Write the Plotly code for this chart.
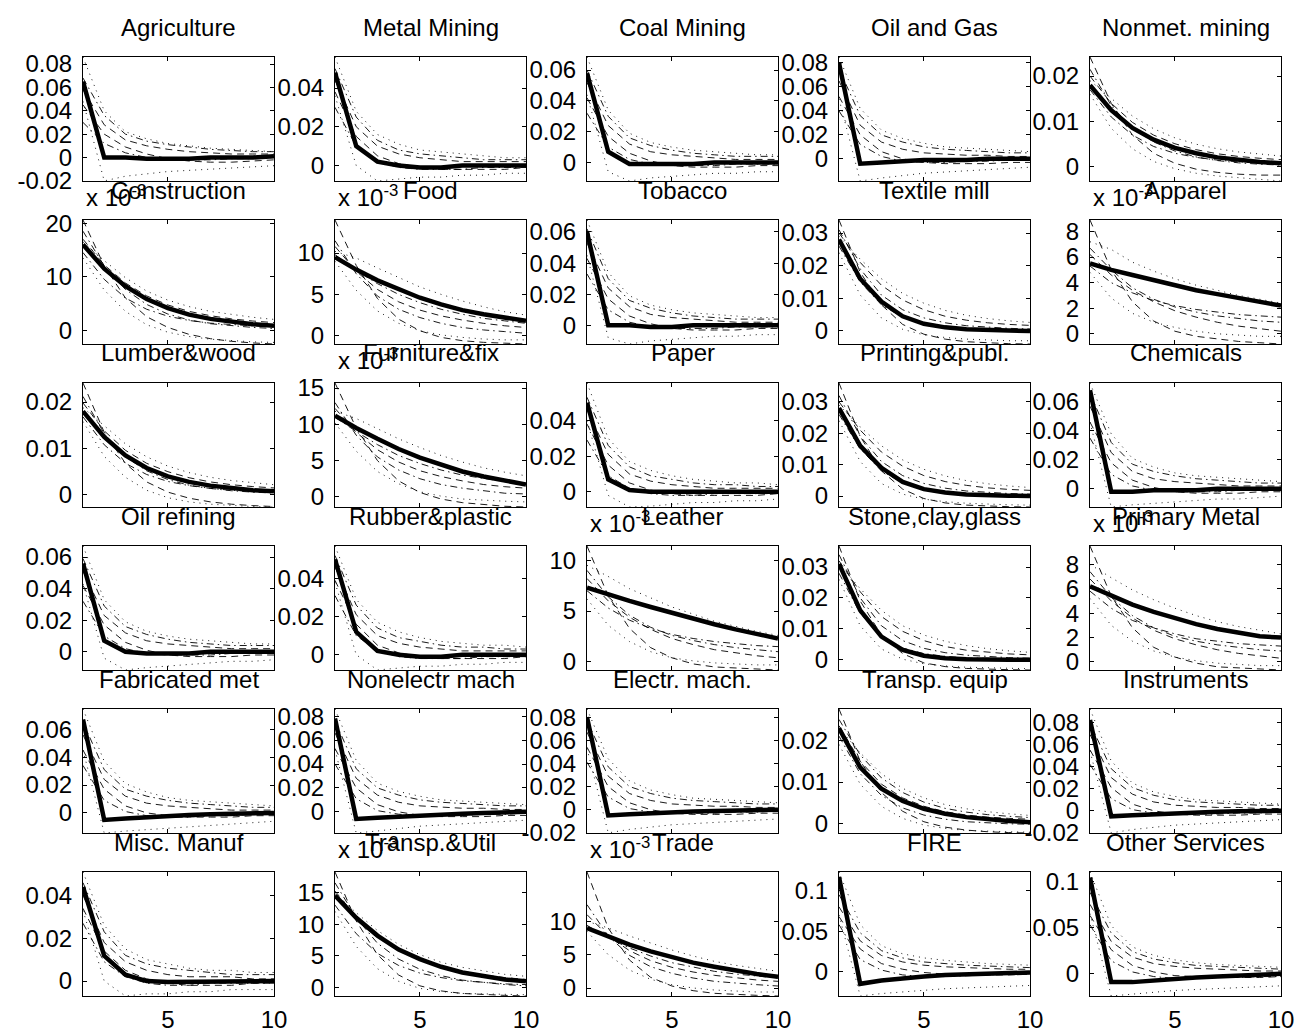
import plotly.graph_objects as go

FONT = "Liberation Sans, Arial, sans-serif"

# ---------------- data ----------------
horizon = [1, 2, 3, 4, 5, 6, 7, 8, 9, 10]

titles = ["Agriculture", "Metal Mining", "Coal Mining", "Oil and Gas", "Nonmet. mining",
          "Construction", "Food", "Tobacco", "Textile mill", "Apparel",
          "Lumber&wood", "Furniture&fix", "Paper", "Printing&publ.", "Chemicals",
          "Oil refining", "Rubber&plastic", "Leather", "Stone,clay,glass", "Primary Metal",
          "Fabricated met", "Nonelectr mach", "Electr. mach.", "Transp. equip", "Instruments",
          "Misc. Manuf", "Transp.&Util", "Trade", "FIRE", "Other Services"]

# panels whose values are shown in units of 1e-3
scaled_1e3 = ["Construction", "Food", "Apparel", "Furniture&fix", "Leather",
              "Primary Metal", "Transp.&Util", "Trade"]

# A = fast (one-period) response, B = smooth decay
kinds = ["A", "A", "A", "A", "B",
         "B", "B", "A", "B", "B",
         "B", "B", "A", "B", "A",
         "A", "A", "B", "B", "B",
         "A", "A", "A", "B", "A",
         "A", "B", "B", "A", "A"]

y_ticks = [
    [-0.02, 0, 0.02, 0.04, 0.06, 0.08], [0, 0.02, 0.04], [0, 0.02, 0.04, 0.06], [0, 0.02, 0.04, 0.06, 0.08], [0, 0.01, 0.02],
    [0, 10, 20], [0, 5, 10], [0, 0.02, 0.04, 0.06], [0, 0.01, 0.02, 0.03], [0, 2, 4, 6, 8],
    [0, 0.01, 0.02], [0, 5, 10, 15], [0, 0.02, 0.04], [0, 0.01, 0.02, 0.03], [0, 0.02, 0.04, 0.06],
    [0, 0.02, 0.04, 0.06], [0, 0.02, 0.04], [0, 5, 10], [0, 0.01, 0.02, 0.03], [0, 2, 4, 6, 8],
    [0, 0.02, 0.04, 0.06], [0, 0.02, 0.04, 0.06, 0.08], [-0.02, 0, 0.02, 0.04, 0.06, 0.08], [0, 0.01, 0.02], [-0.02, 0, 0.02, 0.04, 0.06, 0.08],
    [0, 0.02, 0.04], [0, 5, 10, 15], [0, 5, 10], [0, 0.05, 0.1], [0, 0.05, 0.1],
]

y_limits = [
    [-0.0201, 0.086], [-0.008, 0.056], [-0.012, 0.0685], [-0.0185, 0.085], [-0.0031, 0.0242],
    [-2.6, 20.6], [-1.0, 14.0], [-0.012, 0.0677], [-0.004, 0.034], [-0.8, 8.9],
    [-0.0026, 0.0241], [-1.4, 15.7], [-0.0085, 0.061], [-0.0035, 0.036], [-0.0125, 0.073],
    [-0.0115, 0.067], [-0.008, 0.057], [-0.8, 11.4], [-0.0033, 0.0368], [-0.66, 9.5],
    [-0.0144, 0.0745], [-0.0177, 0.086], [-0.0201, 0.087], [-0.0022, 0.0275], [-0.0201, 0.092],
    [-0.007, 0.051], [-1.3, 18.2], [-1.2, 17.4], [-0.030, 0.123], [-0.024, 0.110],
]

# main (thick) responses
agriculture = [0.065, 0.000, 0.000, -0.001, -0.001, -0.001, 0.000, 0.000, 0.000, 0.001]
metal_mining = [0.048, 0.010, 0.002, 0.000, -0.001, -0.001, 0.000, 0.000, 0.000, 0.000]
coal_mining = [0.058, 0.007, -0.001, -0.001, -0.001, -0.001, 0.000, 0.000, 0.000, 0.000]
oil_gas = [0.080, -0.004, -0.003, -0.002, -0.001, -0.001, -0.001, 0.000, 0.000, 0.000]
nonmet_mining = [0.0180, 0.0125, 0.0086, 0.0060, 0.0042, 0.0030, 0.0021, 0.0015, 0.0011, 0.0008]
construction = [16.0, 11.5, 8.2, 5.8, 4.1, 2.9, 2.1, 1.5, 1.1, 0.8]
food = [9.5, 8.0, 6.7, 5.6, 4.6, 3.8, 3.1, 2.6, 2.2, 1.8]
tobacco = [0.060, 0.000, 0.000, -0.001, -0.001, 0.000, 0.000, 0.000, 0.000, 0.000]
textile = [0.028, 0.016, 0.009, 0.0045, 0.0022, 0.0011, 0.0005, 0.0002, 0.0001, 0.0000]
apparel = [5.5, 5.0, 4.6, 4.2, 3.8, 3.4, 3.1, 2.8, 2.5, 2.2]
lumber = [0.0180, 0.0125, 0.0085, 0.0058, 0.0040, 0.0028, 0.0020, 0.0014, 0.0010, 0.0008]
furniture = [11.2, 9.5, 8.0, 6.6, 5.4, 4.4, 3.5, 2.8, 2.2, 1.7]
paper = [0.050, 0.007, 0.001, 0.000, 0.000, 0.000, 0.000, 0.000, 0.000, 0.000]
printing = [0.028, 0.016, 0.009, 0.0045, 0.0022, 0.0011, 0.0005, 0.0002, 0.0001, 0.0000]
chemicals = [0.068, -0.002, -0.002, -0.001, -0.001, -0.001, 0.000, 0.000, 0.000, 0.000]
oil_refining = [0.056, 0.007, 0.000, -0.001, -0.001, -0.001, 0.000, 0.000, 0.000, 0.000]
rubber = [0.050, 0.012, 0.002, 0.000, -0.001, -0.001, 0.000, 0.000, 0.000, 0.000]
leather = [7.3, 6.6, 6.0, 5.4, 4.8, 4.2, 3.7, 3.2, 2.7, 2.3]
stone = [0.031, 0.016, 0.0075, 0.0032, 0.0013, 0.0005, 0.0002, 0.0000, 0.0000, 0.0000]
primary_metal = [6.2, 5.4, 4.7, 4.1, 3.6, 3.1, 2.7, 2.4, 2.1, 2.0]
fabricated = [0.067, -0.005, -0.004, -0.003, -0.002, -0.0015, -0.001, -0.0005, 0.000, 0.000]
nonelectr = [0.078, -0.006, -0.005, -0.004, -0.003, -0.002, -0.0015, -0.001, -0.0005, 0.000]
electr = [0.080, -0.005, -0.004, -0.003, -0.002, -0.0015, -0.001, -0.0005, 0.000, 0.000]
transp_equip = [0.0229, 0.0135, 0.0084, 0.0055, 0.0036, 0.0024, 0.0016, 0.0011, 0.0007, 0.0004]
instruments = [0.082, -0.005, -0.004, -0.003, -0.002, -0.0015, -0.001, -0.0005, 0.000, 0.000]
misc_manuf = [0.044, 0.0118, 0.003, 0.000, -0.0005, -0.0005, 0.000, 0.000, 0.000, 0.000]
transp_util = [14.5, 11.0, 8.2, 6.0, 4.5, 3.3, 2.4, 1.8, 1.3, 1.0]
trade = [9.0, 7.7, 6.5, 5.5, 4.6, 3.8, 3.2, 2.6, 2.1, 1.7]
fire = [0.117, -0.015, -0.011, -0.008, -0.006, -0.004, -0.003, -0.002, -0.001, -0.001]
other_services = [0.104, -0.009, -0.009, -0.007, -0.005, -0.004, -0.003, -0.002, -0.001, 0.000]

# alternative (thin) responses, six per panel
agriculture_alt = [
    [0.086, 0.040, 0.022, 0.016, 0.012, 0.010, 0.008, 0.007, 0.006, 0.005],
    [0.068, 0.036, 0.020, 0.014, 0.011, 0.009, 0.007, 0.006, 0.005, 0.005],
    [0.058, 0.028, 0.015, 0.010, 0.007, 0.005, 0.004, 0.003, 0.003, 0.003],
    [0.045, 0.020, 0.009, 0.003, -0.001, -0.003, -0.004, -0.004, -0.003, -0.002],
    [0.030, 0.012, 0.004, 0.000, -0.002, -0.002, -0.002, -0.001, -0.001, 0.000],
    [0.048, -0.020, -0.016, -0.014, -0.012, -0.011, -0.010, -0.009, -0.008, -0.007]]
metal_mining_alt = [
    [0.056, 0.028, 0.016, 0.011, 0.008, 0.007, 0.006, 0.005, 0.004, 0.004],
    [0.050, 0.025, 0.013, 0.008, 0.006, 0.005, 0.004, 0.003, 0.003, 0.003],
    [0.044, 0.020, 0.010, 0.006, 0.004, 0.003, 0.002, 0.002, 0.002, 0.002],
    [0.038, 0.015, 0.005, 0.001, -0.001, -0.002, -0.002, -0.002, -0.002, -0.001],
    [0.030, 0.010, 0.002, -0.001, -0.002, -0.002, -0.002, -0.001, -0.001, -0.001],
    [0.036, 0.000, -0.008, -0.007, -0.006, -0.006, -0.005, -0.005, -0.004, -0.004]]
coal_mining_alt = [
    [0.0685, 0.034, 0.019, 0.013, 0.010, 0.008, 0.007, 0.006, 0.005, 0.005],
    [0.060, 0.030, 0.016, 0.011, 0.008, 0.006, 0.005, 0.004, 0.004, 0.004],
    [0.052, 0.024, 0.012, 0.007, 0.005, 0.004, 0.003, 0.002, 0.002, 0.002],
    [0.042, 0.017, 0.006, 0.001, -0.002, -0.003, -0.003, -0.003, -0.002, -0.002],
    [0.032, 0.010, 0.002, -0.001, -0.002, -0.002, -0.002, -0.001, -0.001, -0.001],
    [0.044, -0.006, -0.012, -0.010, -0.009, -0.008, -0.007, -0.007, -0.006, -0.006]]
oil_gas_alt = [
    [0.085, 0.042, 0.024, 0.017, 0.013, 0.010, 0.009, 0.008, 0.007, 0.006],
    [0.075, 0.036, 0.020, 0.014, 0.010, 0.008, 0.007, 0.006, 0.005, 0.005],
    [0.065, 0.028, 0.014, 0.008, 0.005, 0.004, 0.003, 0.003, 0.002, 0.002],
    [0.052, 0.020, 0.006, 0.000, -0.003, -0.004, -0.004, -0.004, -0.003, -0.003],
    [0.040, 0.012, 0.002, -0.002, -0.003, -0.003, -0.002, -0.002, -0.001, -0.001],
    [0.050, -0.0185, -0.016, -0.014, -0.012, -0.011, -0.010, -0.009, -0.008, -0.007]]
nonmet_mining_alt = [
    [0.0242, 0.0140, 0.0070, 0.0030, 0.0008, -0.0005, -0.0012, -0.0016, -0.0018, -0.0018],
    [0.0215, 0.0135, 0.0085, 0.0055, 0.0035, 0.0022, 0.0014, 0.0009, 0.0006, 0.0004],
    [0.0200, 0.0140, 0.0098, 0.0070, 0.0051, 0.0038, 0.0029, 0.0023, 0.0019, 0.0016],
    [0.0190, 0.0150, 0.0112, 0.0084, 0.0064, 0.0050, 0.0040, 0.0033, 0.0028, 0.0024],
    [0.0170, 0.0110, 0.0070, 0.0045, 0.0030, 0.0021, 0.0015, 0.0011, 0.0009, 0.0008],
    [0.0160, 0.0085, 0.0040, 0.0012, -0.0004, -0.0014, -0.0020, -0.0024, -0.0028, -0.0031]]
construction_alt = [
    [20.6, 12.0, 6.0, 2.5, 0.5, -0.8, -1.6, -2.1, -2.4, -2.6],
    [18.5, 12.0, 7.6, 4.8, 3.0, 1.9, 1.2, 0.8, 0.5, 0.3],
    [17.0, 12.2, 8.8, 6.4, 4.7, 3.5, 2.7, 2.1, 1.7, 1.4],
    [16.5, 13.0, 9.8, 7.3, 5.6, 4.4, 3.5, 2.9, 2.4, 2.0],
    [14.5, 9.5, 6.0, 3.9, 2.6, 1.8, 1.3, 1.0, 0.8, 0.7],
    [13.5, 7.5, 3.5, 1.0, -0.4, -1.2, -1.7, -2.0, -2.2, -2.3]]
food_alt = [
    [14.0, 8.5, 4.5, 2.0, 0.6, -0.2, -0.6, -0.8, -0.9, -1.0],
    [11.5, 7.5, 4.8, 3.2, 2.2, 1.5, 1.0, 0.7, 0.5, 0.3],
    [10.8, 7.8, 5.6, 4.1, 3.1, 2.4, 1.9, 1.5, 1.2, 1.0],
    [10.2, 9.4, 8.2, 7.0, 5.9, 5.0, 4.2, 3.5, 2.9, 2.5],
    [9.8, 7.9, 6.3, 5.0, 4.0, 3.2, 2.6, 2.1, 1.8, 1.5],
    [9.0, 5.5, 3.0, 1.5, 0.6, 0.1, -0.2, -0.4, -0.5, -0.5]]
tobacco_alt = [
    [0.0677, 0.034, 0.019, 0.013, 0.010, 0.008, 0.007, 0.006, 0.005, 0.005],
    [0.062, 0.030, 0.016, 0.011, 0.008, 0.006, 0.005, 0.004, 0.004, 0.004],
    [0.053, 0.024, 0.012, 0.007, 0.005, 0.004, 0.003, 0.002, 0.002, 0.002],
    [0.043, 0.017, 0.006, 0.001, -0.002, -0.003, -0.003, -0.003, -0.002, -0.002],
    [0.033, 0.010, 0.002, -0.001, -0.002, -0.002, -0.002, -0.001, -0.001, -0.001],
    [0.045, -0.008, -0.012, -0.010, -0.009, -0.008, -0.007, -0.007, -0.006, -0.006]]
textile_alt = [
    [0.034, 0.018, 0.008, 0.002, -0.001, -0.0025, -0.0033, -0.0037, -0.0039, -0.004],
    [0.031, 0.019, 0.011, 0.0065, 0.004, 0.0025, 0.0016, 0.0011, 0.0008, 0.0006],
    [0.030, 0.021, 0.014, 0.0095, 0.0065, 0.0045, 0.0033, 0.0025, 0.0020, 0.0017],
    [0.029, 0.022, 0.016, 0.0115, 0.0085, 0.0063, 0.0048, 0.0038, 0.0031, 0.0026],
    [0.026, 0.015, 0.008, 0.0042, 0.0022, 0.0012, 0.0007, 0.0004, 0.0003, 0.0002],
    [0.024, 0.011, 0.004, 0.0005, -0.0012, -0.002, -0.0025, -0.0028, -0.003, -0.003]]
apparel_alt = [
    [8.9, 5.0, 2.5, 1.0, 0.2, -0.2, -0.4, -0.6, -0.7, -0.8],
    [6.7, 5.0, 3.6, 2.7, 2.1, 1.7, 1.4, 1.2, 1.0, 0.9],
    [6.2, 4.6, 3.4, 2.5, 1.8, 1.3, 0.9, 0.6, 0.4, 0.2],
    [7.2, 6.6, 5.6, 4.9, 4.3, 3.8, 3.4, 3.0, 2.7, 2.4],
    [5.3, 4.0, 3.2, 2.6, 2.2, 1.9, 1.7, 1.5, 1.4, 1.3],
    [4.8, 2.8, 1.6, 0.9, 0.5, 0.2, 0.0, -0.1, -0.2, -0.2]]
lumber_alt = [
    [0.0241, 0.0135, 0.0068, 0.0028, 0.0006, -0.0007, -0.0015, -0.0020, -0.0023, -0.0025],
    [0.0212, 0.0132, 0.0082, 0.0052, 0.0033, 0.0021, 0.0014, 0.0009, 0.0006, 0.0004],
    [0.0198, 0.0138, 0.0096, 0.0068, 0.0050, 0.0037, 0.0028, 0.0022, 0.0018, 0.0015],
    [0.0188, 0.0148, 0.0110, 0.0082, 0.0062, 0.0048, 0.0038, 0.0031, 0.0026, 0.0022],
    [0.0168, 0.0108, 0.0068, 0.0044, 0.0029, 0.0020, 0.0014, 0.0010, 0.0008, 0.0007],
    [0.0158, 0.0083, 0.0038, 0.0010, -0.0006, -0.0015, -0.0020, -0.0023, -0.0025, -0.0026]]
furniture_alt = [
    [15.7, 9.5, 5.0, 2.2, 0.6, -0.3, -0.8, -1.1, -1.3, -1.4],
    [13.0, 8.5, 5.5, 3.7, 2.5, 1.7, 1.2, 0.8, 0.5, 0.4],
    [12.2, 8.9, 6.5, 4.8, 3.6, 2.8, 2.2, 1.7, 1.4, 1.2],
    [11.8, 10.8, 9.4, 8.0, 6.8, 5.7, 4.8, 4.0, 3.4, 2.9],
    [11.0, 9.0, 7.2, 5.7, 4.6, 3.7, 3.0, 2.5, 2.1, 1.8],
    [10.2, 6.3, 3.5, 1.8, 0.7, 0.1, -0.3, -0.5, -0.6, -0.7]]
paper_alt = [
    [0.061, 0.030, 0.017, 0.012, 0.009, 0.007, 0.006, 0.005, 0.005, 0.004],
    [0.053, 0.026, 0.014, 0.009, 0.007, 0.005, 0.004, 0.004, 0.003, 0.003],
    [0.046, 0.021, 0.010, 0.006, 0.004, 0.003, 0.002, 0.002, 0.002, 0.002],
    [0.038, 0.015, 0.005, 0.001, -0.001, -0.002, -0.002, -0.002, -0.002, -0.001],
    [0.029, 0.009, 0.002, -0.001, -0.002, -0.002, -0.001, -0.001, -0.001, -0.001],
    [0.040, -0.002, -0.0085, -0.008, -0.007, -0.006, -0.006, -0.005, -0.005, -0.004]]
printing_alt = [
    [0.036, 0.019, 0.008, 0.0022, -0.0008, -0.0022, -0.0029, -0.0032, -0.0034, -0.0035],
    [0.032, 0.019, 0.011, 0.0065, 0.004, 0.0025, 0.0016, 0.0011, 0.0008, 0.0006],
    [0.030, 0.021, 0.014, 0.0095, 0.0065, 0.0046, 0.0034, 0.0026, 0.0021, 0.0018],
    [0.029, 0.022, 0.016, 0.0115, 0.0085, 0.0064, 0.0049, 0.0039, 0.0032, 0.0027],
    [0.026, 0.015, 0.008, 0.0042, 0.0022, 0.0012, 0.0007, 0.0004, 0.0003, 0.0002],
    [0.024, 0.011, 0.004, 0.0006, -0.0010, -0.0018, -0.0023, -0.0026, -0.0028, -0.0029]]
chemicals_alt = [
    [0.073, 0.038, 0.021, 0.015, 0.011, 0.009, 0.008, 0.007, 0.006, 0.005],
    [0.066, 0.032, 0.017, 0.012, 0.009, 0.007, 0.006, 0.005, 0.004, 0.004],
    [0.057, 0.025, 0.012, 0.007, 0.005, 0.004, 0.003, 0.002, 0.002, 0.002],
    [0.046, 0.018, 0.006, 0.001, -0.002, -0.003, -0.003, -0.003, -0.002, -0.002],
    [0.035, 0.010, 0.002, -0.001, -0.002, -0.002, -0.002, -0.001, -0.001, -0.001],
    [0.046, -0.0125, -0.011, -0.010, -0.009, -0.008, -0.007, -0.007, -0.006, -0.005]]
oil_refining_alt = [
    [0.067, 0.033, 0.019, 0.013, 0.010, 0.008, 0.007, 0.006, 0.005, 0.005],
    [0.059, 0.029, 0.016, 0.011, 0.008, 0.006, 0.005, 0.004, 0.004, 0.004],
    [0.051, 0.023, 0.012, 0.007, 0.005, 0.004, 0.003, 0.002, 0.002, 0.002],
    [0.042, 0.017, 0.006, 0.001, -0.002, -0.003, -0.003, -0.003, -0.002, -0.002],
    [0.032, 0.010, 0.002, -0.001, -0.002, -0.002, -0.002, -0.001, -0.001, -0.001],
    [0.043, -0.004, -0.0115, -0.010, -0.009, -0.008, -0.007, -0.006, -0.006, -0.005]]
rubber_alt = [
    [0.057, 0.029, 0.017, 0.012, 0.009, 0.007, 0.006, 0.005, 0.005, 0.004],
    [0.052, 0.026, 0.014, 0.009, 0.007, 0.005, 0.004, 0.004, 0.003, 0.003],
    [0.046, 0.021, 0.010, 0.006, 0.004, 0.003, 0.002, 0.002, 0.002, 0.002],
    [0.039, 0.016, 0.005, 0.001, -0.001, -0.002, -0.002, -0.002, -0.002, -0.001],
    [0.031, 0.010, 0.002, -0.001, -0.002, -0.002, -0.002, -0.001, -0.001, -0.001],
    [0.038, 0.000, -0.008, -0.007, -0.006, -0.006, -0.005, -0.005, -0.004, -0.004]]
leather_alt = [
    [11.4, 6.5, 3.3, 1.4, 0.4, -0.2, -0.5, -0.6, -0.7, -0.8],
    [9.0, 6.4, 4.6, 3.4, 2.6, 2.1, 1.7, 1.4, 1.2, 1.0],
    [8.2, 6.0, 4.4, 3.2, 2.3, 1.7, 1.2, 0.9, 0.6, 0.4],
    [9.5, 8.4, 7.2, 6.3, 5.4, 4.7, 4.0, 3.5, 3.0, 2.6],
    [7.0, 5.3, 4.1, 3.3, 2.7, 2.3, 2.0, 1.8, 1.6, 1.5],
    [6.2, 3.6, 2.0, 1.0, 0.4, 0.1, -0.1, -0.2, -0.3, -0.3]]
stone_alt = [
    [0.0368, 0.019, 0.008, 0.002, -0.001, -0.0022, -0.0028, -0.0031, -0.0032, -0.0033],
    [0.034, 0.020, 0.011, 0.0062, 0.0037, 0.0023, 0.0015, 0.0010, 0.0007, 0.0005],
    [0.032, 0.022, 0.014, 0.0092, 0.0062, 0.0043, 0.0031, 0.0024, 0.0019, 0.0016],
    [0.031, 0.023, 0.016, 0.011, 0.0080, 0.0060, 0.0046, 0.0036, 0.0029, 0.0024],
    [0.028, 0.015, 0.0075, 0.0038, 0.0020, 0.0011, 0.0006, 0.0004, 0.0003, 0.0002],
    [0.026, 0.011, 0.0035, 0.0002, -0.0013, -0.002, -0.0024, -0.0026, -0.0028, -0.0029]]
primary_metal_alt = [
    [9.5, 5.4, 2.8, 1.2, 0.4, -0.1, -0.4, -0.5, -0.6, -0.66],
    [7.4, 5.3, 3.8, 2.8, 2.1, 1.7, 1.4, 1.2, 1.0, 0.9],
    [6.8, 5.0, 3.6, 2.6, 1.9, 1.4, 1.0, 0.7, 0.5, 0.3],
    [8.0, 6.9, 5.9, 5.1, 4.4, 3.8, 3.3, 2.9, 2.6, 2.3],
    [5.8, 4.4, 3.4, 2.8, 2.3, 1.9, 1.7, 1.5, 1.4, 1.3],
    [5.2, 3.0, 1.7, 0.9, 0.4, 0.1, -0.1, -0.2, -0.3, -0.3]]
fabricated_alt = [
    [0.0745, 0.037, 0.021, 0.015, 0.011, 0.009, 0.008, 0.007, 0.006, 0.005],
    [0.065, 0.031, 0.017, 0.012, 0.009, 0.007, 0.006, 0.005, 0.004, 0.004],
    [0.056, 0.024, 0.012, 0.007, 0.005, 0.004, 0.003, 0.002, 0.002, 0.002],
    [0.045, 0.017, 0.005, 0.000, -0.002, -0.003, -0.003, -0.003, -0.002, -0.002],
    [0.034, 0.009, 0.001, -0.002, -0.003, -0.003, -0.002, -0.002, -0.001, -0.001],
    [0.045, -0.0144, -0.013, -0.012, -0.011, -0.010, -0.009, -0.008, -0.007, -0.006]]
nonelectr_alt = [
    [0.086, 0.043, 0.024, 0.017, 0.013, 0.010, 0.009, 0.008, 0.007, 0.006],
    [0.076, 0.036, 0.020, 0.014, 0.010, 0.008, 0.007, 0.006, 0.005, 0.005],
    [0.066, 0.028, 0.014, 0.008, 0.005, 0.004, 0.003, 0.003, 0.002, 0.002],
    [0.053, 0.020, 0.006, 0.000, -0.003, -0.004, -0.004, -0.004, -0.003, -0.003],
    [0.040, 0.011, 0.001, -0.002, -0.003, -0.003, -0.003, -0.002, -0.002, -0.001],
    [0.052, -0.0177, -0.016, -0.014, -0.012, -0.011, -0.010, -0.009, -0.008, -0.007]]
electr_alt = [
    [0.087, 0.044, 0.025, 0.017, 0.013, 0.010, 0.009, 0.008, 0.007, 0.006],
    [0.077, 0.037, 0.020, 0.014, 0.010, 0.008, 0.007, 0.006, 0.005, 0.005],
    [0.067, 0.029, 0.014, 0.008, 0.005, 0.004, 0.003, 0.003, 0.002, 0.002],
    [0.054, 0.020, 0.006, 0.000, -0.003, -0.004, -0.004, -0.004, -0.003, -0.003],
    [0.041, 0.011, 0.001, -0.002, -0.003, -0.003, -0.003, -0.002, -0.002, -0.001],
    [0.053, -0.020, -0.017, -0.015, -0.013, -0.012, -0.011, -0.010, -0.009, -0.008]]
transp_equip_alt = [
    [0.0275, 0.0150, 0.0075, 0.0030, 0.0005, -0.0008, -0.0015, -0.0019, -0.0021, -0.0022],
    [0.0250, 0.0165, 0.0110, 0.0075, 0.0052, 0.0037, 0.0028, 0.0022, 0.0018, 0.0015],
    [0.0235, 0.0150, 0.0095, 0.0062, 0.0042, 0.0029, 0.0021, 0.0016, 0.0013, 0.0011],
    [0.0230, 0.0170, 0.0120, 0.0085, 0.0062, 0.0046, 0.0036, 0.0029, 0.0024, 0.0020],
    [0.0210, 0.0120, 0.0068, 0.0038, 0.0021, 0.0011, 0.0005, 0.0002, 0.0000, -0.0001],
    [0.0190, 0.0095, 0.0042, 0.0013, -0.0003, -0.0011, -0.0016, -0.0018, -0.0019, -0.0020]]
instruments_alt = [
    [0.092, 0.045, 0.025, 0.017, 0.013, 0.010, 0.009, 0.008, 0.007, 0.006],
    [0.079, 0.038, 0.021, 0.014, 0.010, 0.008, 0.007, 0.006, 0.005, 0.005],
    [0.069, 0.030, 0.015, 0.008, 0.005, 0.004, 0.003, 0.003, 0.002, 0.002],
    [0.055, 0.021, 0.006, 0.000, -0.003, -0.004, -0.004, -0.004, -0.003, -0.003],
    [0.042, 0.011, 0.001, -0.002, -0.003, -0.003, -0.003, -0.002, -0.002, -0.001],
    [0.054, -0.020, -0.017, -0.015, -0.013, -0.012, -0.011, -0.010, -0.009, -0.008]]
misc_manuf_alt = [
    [0.051, 0.026, 0.015, 0.010, 0.008, 0.006, 0.005, 0.005, 0.004, 0.004],
    [0.046, 0.023, 0.012, 0.008, 0.006, 0.005, 0.004, 0.003, 0.003, 0.003],
    [0.040, 0.018, 0.009, 0.005, 0.003, 0.002, 0.002, 0.002, 0.001, 0.001],
    [0.034, 0.014, 0.005, 0.001, -0.001, -0.002, -0.002, -0.002, -0.001, -0.001],
    [0.027, 0.009, 0.002, -0.001, -0.002, -0.002, -0.001, -0.001, -0.001, -0.001],
    [0.033, 0.000, -0.007, -0.006, -0.006, -0.005, -0.005, -0.004, -0.004, -0.004]]
transp_util_alt = [
    [18.2, 10.5, 5.2, 2.0, 0.3, -0.5, -0.9, -1.1, -1.2, -1.3],
    [16.5, 11.0, 7.0, 4.5, 2.9, 1.9, 1.2, 0.8, 0.5, 0.3],
    [15.2, 11.2, 8.1, 5.9, 4.4, 3.3, 2.6, 2.0, 1.6, 1.3],
    [14.8, 11.8, 9.0, 6.8, 5.2, 4.0, 3.2, 2.6, 2.1, 1.8],
    [13.0, 8.5, 5.4, 3.5, 2.3, 1.6, 1.1, 0.8, 0.6, 0.5],
    [12.0, 6.5, 3.0, 1.0, -0.1, -0.6, -0.9, -1.0, -1.1, -1.1]]
trade_alt = [
    [17.4, 9.0, 4.2, 1.6, 0.3, -0.4, -0.8, -1.0, -1.1, -1.2],
    [12.5, 7.8, 4.9, 3.2, 2.2, 1.5, 1.0, 0.7, 0.5, 0.3],
    [11.0, 7.8, 5.6, 4.1, 3.1, 2.4, 1.9, 1.5, 1.2, 1.0],
    [10.0, 9.0, 7.8, 6.7, 5.7, 4.8, 4.0, 3.4, 2.9, 2.5],
    [9.4, 7.5, 6.0, 4.8, 3.8, 3.1, 2.5, 2.1, 1.8, 1.5],
    [8.5, 5.0, 2.7, 1.3, 0.5, 0.0, -0.3, -0.5, -0.6, -0.6]]
fire_alt = [
    [0.123, 0.058, 0.032, 0.022, 0.017, 0.014, 0.012, 0.010, 0.009, 0.008],
    [0.095, 0.048, 0.026, 0.017, 0.012, 0.010, 0.008, 0.007, 0.006, 0.005],
    [0.080, 0.038, 0.020, 0.012, 0.008, 0.006, 0.005, 0.004, 0.003, 0.003],
    [0.068, 0.028, 0.010, 0.003, -0.001, -0.003, -0.004, -0.004, -0.004, -0.003],
    [0.058, 0.015, 0.002, -0.004, -0.006, -0.006, -0.005, -0.004, -0.003, -0.003],
    [0.070, -0.030, -0.027, -0.025, -0.023, -0.021, -0.020, -0.019, -0.018, -0.017]]
other_services_alt = [
    [0.110, 0.052, 0.029, 0.020, 0.015, 0.012, 0.010, 0.009, 0.008, 0.007],
    [0.088, 0.044, 0.024, 0.016, 0.012, 0.009, 0.008, 0.007, 0.006, 0.005],
    [0.075, 0.035, 0.018, 0.011, 0.008, 0.006, 0.005, 0.004, 0.003, 0.003],
    [0.063, 0.026, 0.009, 0.002, -0.002, -0.003, -0.004, -0.004, -0.004, -0.003],
    [0.053, 0.014, 0.002, -0.003, -0.005, -0.005, -0.004, -0.004, -0.003, -0.003],
    [0.065, -0.024, -0.022, -0.020, -0.018, -0.017, -0.016, -0.015, -0.014, -0.013]]

main_responses = [agriculture, metal_mining, coal_mining, oil_gas, nonmet_mining,
                  construction, food, tobacco, textile, apparel,
                  lumber, furniture, paper, printing, chemicals,
                  oil_refining, rubber, leather, stone, primary_metal,
                  fabricated, nonelectr, electr, transp_equip, instruments,
                  misc_manuf, transp_util, trade, fire, other_services]
alt_responses = [agriculture_alt, metal_mining_alt, coal_mining_alt, oil_gas_alt, nonmet_mining_alt,
                 construction_alt, food_alt, tobacco_alt, textile_alt, apparel_alt,
                 lumber_alt, furniture_alt, paper_alt, printing_alt, chemicals_alt,
                 oil_refining_alt, rubber_alt, leather_alt, stone_alt, primary_metal_alt,
                 fabricated_alt, nonelectr_alt, electr_alt, transp_equip_alt, instruments_alt,
                 misc_manuf_alt, transp_util_alt, trade_alt, fire_alt, other_services_alt]

# ---------------- styling / layout ----------------
W, H = 1297, 1032
col_left = [83, 335, 587, 839, 1090]
row_top = [57, 220, 383, 546, 709, 872]
box_w, box_h = 191, 124

DOT = "1px,5px"
DASH = "7px,5px"
DASHDOT = "7px,4px,1.5px,4px"
styles = {"A": [DOT, DASHDOT, DASH, DASH, DASHDOT, DOT],
          "B": [DASH, DASHDOT, DASH, DOT, DASHDOT, DOT]}

FS = 24
TICK_FONT = dict(family=FONT, size=FS, color="black")

fig = go.Figure()
layout = {}
annotations = []

for i in range(30):
    r, c = divmod(i, 5)
    n = i + 1
    sfx = "" if n == 1 else str(n)
    xref, yref = "x" + sfx, "y" + sfx

    for k, series in enumerate(alt_responses[i]):
        fig.add_trace(go.Scatter(x=horizon, y=series, mode="lines",
                                 line=dict(color="black", width=0.9, dash=styles[kinds[i]][k]),
                                 xaxis=xref, yaxis=yref, showlegend=False, hoverinfo="skip"))
    fig.add_trace(go.Scatter(x=horizon, y=main_responses[i], mode="lines",
                             line=dict(color="black", width=4.5),
                             xaxis=xref, yaxis=yref, showlegend=False))

    left = col_left[c]
    top = row_top[r]
    x0, x1 = left / W, (left + box_w) / W
    y1, y0 = 1 - top / H, 1 - (top + box_h) / H

    common = dict(showline=True, linecolor="black", linewidth=1, mirror="ticks",
                  ticks="inside", ticklen=4, tickwidth=1, tickcolor="black",
                  showgrid=False, zeroline=False, tickfont=TICK_FONT,
                  fixedrange=True, automargin=False)
    layout["xaxis" + sfx] = dict(domain=[x0, x1], anchor=yref, range=[1, 10],
                                 tickvals=[5, 10], ticktext=["5", "10"],
                                 showticklabels=(r == 5), ticklabelstandoff=2, **common)
    tv = y_ticks[i]
    layout["yaxis" + sfx] = dict(domain=[y0, y1], anchor=xref, range=y_limits[i],
                                 tickvals=tv, ticktext=[f"{v:g}" for v in tv],
                                 ticklabelstandoff=5, **common)

    annotations.append(dict(text=titles[i], x=(left + box_w / 2) / W, y=1 - (top - 30) / H,
                            xref="paper", yref="paper", xanchor="center", yanchor="middle",
                            showarrow=False, font=dict(family=FONT, size=FS, color="black")))
    if titles[i] in scaled_1e3:
        annotations.append(dict(text="x 10<sup>-3</sup>", x=(left + 1) / W, y=1 - (top - 24) / H,
                                xref="paper", yref="paper", xanchor="left", yanchor="middle",
                                showarrow=False, font=dict(family=FONT, size=FS, color="black")))

fig.update_layout(width=W, height=H, margin=dict(l=0, r=0, t=0, b=0, autoexpand=False),
                  paper_bgcolor="white", plot_bgcolor="white",
                  annotations=annotations, showlegend=False, **layout)

fig.write_html("out.html")
